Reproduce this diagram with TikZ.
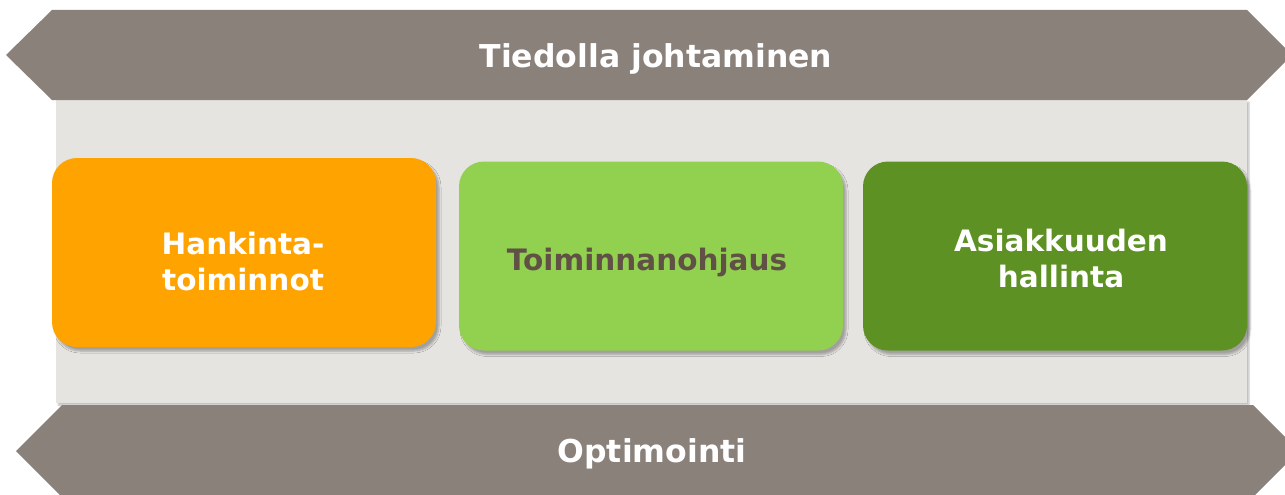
\documentclass[tikz,border=0pt]{standalone}
\usepackage{fontspec}
\setmainfont{DejaVu Sans}
\usetikzlibrary{shadows.blur}
\definecolor{bandgray}{RGB}{139,129,123}
\definecolor{panelgray}{RGB}{230,228,225}
\definecolor{orangebox}{RGB}{255,163,0}
\definecolor{lightgreen}{RGB}{146,208,80}
\definecolor{darkgreen}{RGB}{94,145,36}
\definecolor{browntext}{RGB}{96,80,70}
\tikzset{
  band/.style={fill=bandgray, draw=none},
  bandtext/.style={text=white, font=\bfseries\fontsize{31.5}{36}\selectfont, inner sep=0pt, anchor=base},
  card/.style={draw=none, rounded corners=25pt, minimum width=384pt, minimum height=189pt, inner sep=0pt,
    blur shadow={shadow xshift=3pt, shadow yshift=-4pt, shadow opacity=30, shadow blur steps=5, shadow blur radius=2pt}},
  cardtext/.style={font=\bfseries\fontsize{29.5}{36}\selectfont, align=center, inner sep=0pt, anchor=base},
}
\begin{document}
\begin{tikzpicture}[x=1pt,y=-1pt]
\useasboundingbox (0,0) rectangle (1285,495);
\clip (0,0) rectangle (1285,495);
% panel
\fill[panelgray, blur shadow={shadow xshift=2pt, shadow yshift=-2pt, shadow opacity=25, shadow blur radius=1.5pt}] (56,100) rectangle (1247,403);
% bands
\fill[band] (6,55) -- (52,10) -- (1247,10) -- (1292,55) -- (1247,100) -- (52,100) -- cycle;
\fill[band] (16,451) -- (62,405) -- (1253,405) -- (1299,451) -- (1253,497) -- (62,497) -- cycle;
\node[bandtext] (top) at (656,67) {Tiedolla johtaminen};
\node[bandtext] (bottom) at (652,462) {Optimointi};
% cards
\node[card, fill=orangebox] (c1) at (244,252.5) {};
\node[card, fill=lightgreen] (c2) at (651,256) {};
\node[card, fill=darkgreen] (c3) at (1055,256) {};
\node[cardtext, text=white] (t1) at (243,290) {Hankinta-\\toiminnot};
\node[cardtext, text=browntext] (t2) at (647,270) {Toiminnanohjaus};
\node[cardtext, text=white] (t3) at (1061,287) {Asiakkuuden\\hallinta};
\end{tikzpicture}
\end{document}
